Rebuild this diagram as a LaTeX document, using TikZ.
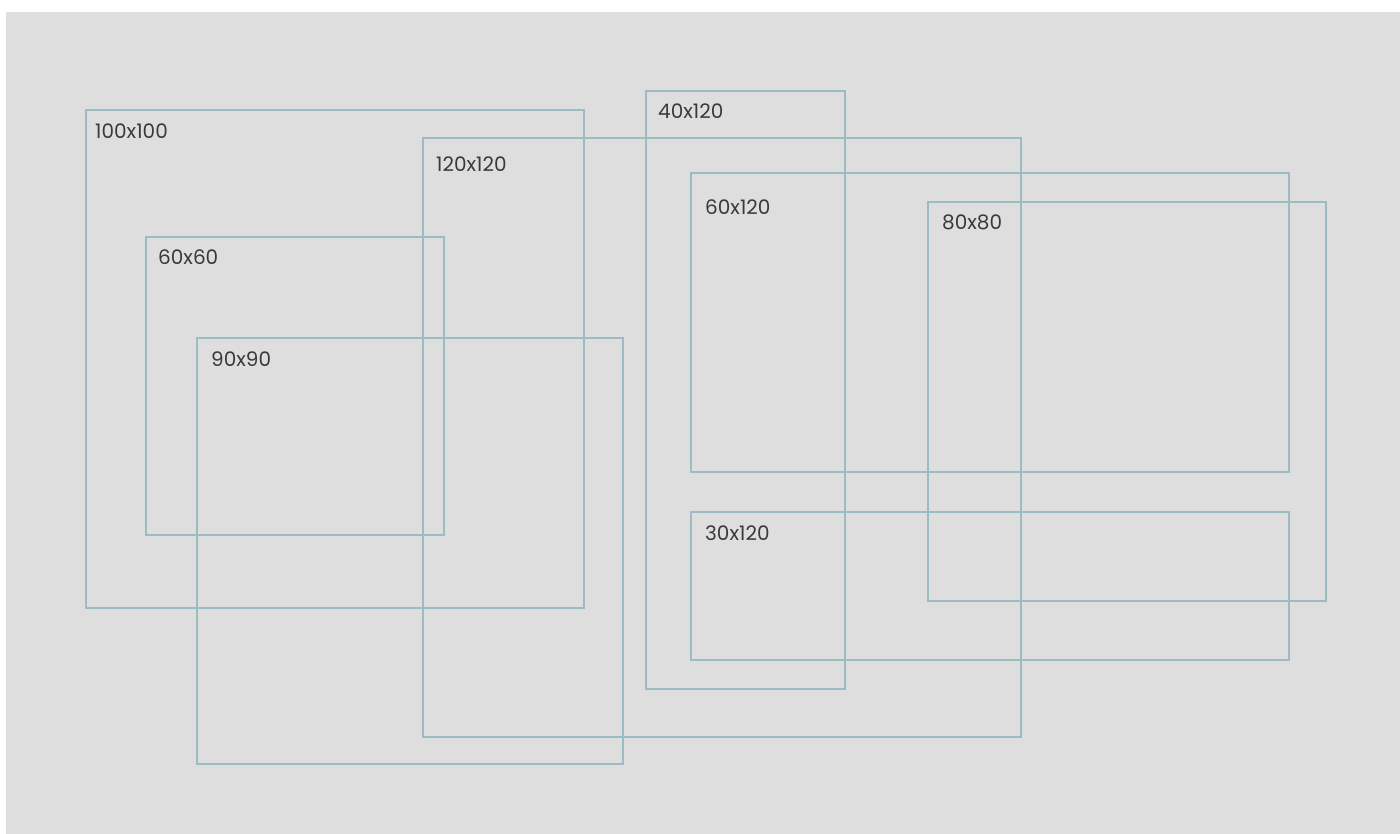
\documentclass[tikz,border=0pt]{standalone}
\usepackage{fontspec}
\setmainfont{Poppins}
\definecolor{bg}{HTML}{DEDEDE}
\definecolor{edge}{HTML}{9BBCC3}
\definecolor{txt}{HTML}{3A3A3A}
\begin{document}
\begin{tikzpicture}[x=1pt,y=-1pt,
  box/.style={draw=edge, line width=1.1pt, inner sep=0pt, outer sep=0pt, anchor=north west},
  lbl/.style={anchor=base west, inner sep=0pt, text=txt, font=\fontsize{20}{24}\selectfont}]
\useasboundingbox (0,0) rectangle (1400,834);
\fill[white] (0,0) rectangle (1400,834);
\fill[bg] (6,12) rectangle (1400,834);
% boxes
\node[box, minimum width=498pt, minimum height=498pt] (b100) at (86,110) {};
\node[box, minimum width=598pt, minimum height=599pt] (b120) at (423,138) {};
\node[box, minimum width=199pt, minimum height=598pt] (b40) at (646,91) {};
\node[box, minimum width=598pt, minimum height=299pt] (b60w) at (691,173) {};
\node[box, minimum width=398pt, minimum height=399pt] (b80) at (928,202) {};
\node[box, minimum width=298pt, minimum height=298pt] (b60) at (146,237) {};
\node[box, minimum width=426pt, minimum height=426pt] (b90) at (197,338) {};
\node[box, minimum width=598pt, minimum height=148pt] (b30) at (691,512) {};
% labels
\node[lbl] (l100) at ([shift={(9,29)}]b100.north west) {100x100};
\node[lbl] (l120) at ([shift={(13,34)}]b120.north west) {120x120};
\node[lbl] (l40) at ([shift={(12,28)}]b40.north west) {40x120};
\node[lbl] (l60w) at ([shift={(14,42)}]b60w.north west) {60x120};
\node[lbl] (l80) at ([shift={(14,28)}]b80.north west) {80x80};
\node[lbl] (l60) at ([shift={(12,28)}]b60.north west) {60x60};
\node[lbl] (l90) at ([shift={(14,28)}]b90.north west) {90x90};
\node[lbl] (l30) at ([shift={(14,28)}]b30.north west) {30x120};
\end{tikzpicture}
\end{document}
